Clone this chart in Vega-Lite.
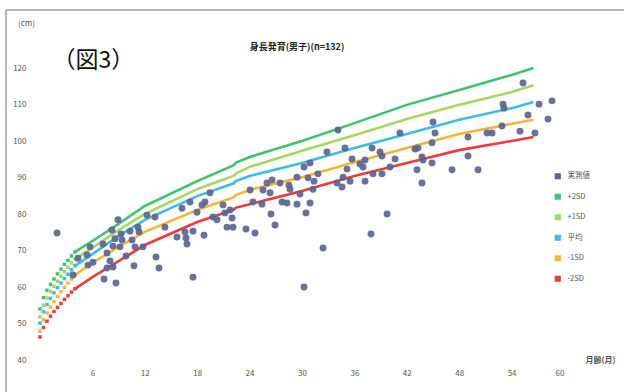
{
  "$schema": "https://vega.github.io/schema/vega-lite/v6.json",
  "autosize": "none",
  "width": 524,
  "height": 328.5,
  "padding": {"left": 40, "top": 31.5, "right": 60, "bottom": 32},
  "background": "white",
  "config": {"font": "Noto Sans CJK JP", "view": {"stroke": null}},
  "title": {"text": "身長発育(男子)(n=132)", "fontSize": 9, "fontWeight": "bold", "color": "#222", "frame": "group", "anchor": "middle", "offset": 0, "baseline": "middle", "dy": 47, "dx": -5},
  "datasets": {
    "one": [{}],
    "curves": [
      {"s":"+2SD","m":0,"v":54.0},{"s":"+2SD","m":0.4,"v":57.1},{"s":"+2SD","m":0.8,"v":59.1},{"s":"+2SD","m":1.2,"v":60.7},{"s":"+2SD","m":1.6,"v":62.2},{"s":"+2SD","m":2,"v":63.6},{"s":"+2SD","m":2.4,"v":64.9},{"s":"+2SD","m":2.8,"v":66.2},{"s":"+2SD","m":3.2,"v":67.3},{"s":"+2SD","m":3.6,"v":68.5},{"s":"+2SD","m":4,"v":69.6},{"s":"+2SD","m":6,"v":72.6},{"s":"+2SD","m":9,"v":77.3},{"s":"+2SD","m":12,"v":82.2},{"s":"+2SD","m":18,"v":89.0},{"s":"+2SD","m":22.2,"v":93.4},{"s":"+2SD","m":22.4,"v":94.0},{"s":"+2SD","m":24,"v":95.6},{"s":"+2SD","m":30,"v":100.0},{"s":"+2SD","m":36,"v":104.9},{"s":"+2SD","m":42,"v":109.9},{"s":"+2SD","m":48,"v":114.0},{"s":"+2SD","m":54,"v":118.1},{"s":"+2SD","m":56.5,"v":120.0},
      {"s":"+1SD","m":0,"v":51.8},{"s":"+1SD","m":0.4,"v":55.0},{"s":"+1SD","m":0.8,"v":57.0},{"s":"+1SD","m":1.2,"v":58.7},{"s":"+1SD","m":1.6,"v":60.2},{"s":"+1SD","m":2,"v":61.6},{"s":"+1SD","m":2.4,"v":62.9},{"s":"+1SD","m":2.8,"v":64.2},{"s":"+1SD","m":3.2,"v":65.4},{"s":"+1SD","m":3.6,"v":66.6},{"s":"+1SD","m":4,"v":67.7},{"s":"+1SD","m":6,"v":70.7},{"s":"+1SD","m":9,"v":75.6},{"s":"+1SD","m":12,"v":80.0},{"s":"+1SD","m":18,"v":86.8},{"s":"+1SD","m":22.2,"v":90.5},{"s":"+1SD","m":22.4,"v":91.1},{"s":"+1SD","m":24,"v":92.9},{"s":"+1SD","m":30,"v":97.3},{"s":"+1SD","m":36,"v":101.6},{"s":"+1SD","m":42,"v":106.0},{"s":"+1SD","m":48,"v":109.9},{"s":"+1SD","m":54,"v":113.4},{"s":"+1SD","m":56.5,"v":115.3},
      {"s":"平均","m":0,"v":50.1},{"s":"平均","m":0.4,"v":53.2},{"s":"平均","m":0.8,"v":55.2},{"s":"平均","m":1.2,"v":56.9},{"s":"平均","m":1.6,"v":58.4},{"s":"平均","m":2,"v":59.8},{"s":"平均","m":2.4,"v":61.1},{"s":"平均","m":2.8,"v":62.3},{"s":"平均","m":3.2,"v":63.5},{"s":"平均","m":3.6,"v":64.7},{"s":"平均","m":4,"v":65.8},{"s":"平均","m":6,"v":69.0},{"s":"平均","m":9,"v":74.0},{"s":"平均","m":12,"v":78.4},{"s":"平均","m":18,"v":84.9},{"s":"平均","m":22.2,"v":88.4},{"s":"平均","m":22.4,"v":89.0},{"s":"平均","m":24,"v":90.4},{"s":"平均","m":30,"v":94.0},{"s":"平均","m":36,"v":98.1},{"s":"平均","m":42,"v":101.9},{"s":"平均","m":48,"v":105.8},{"s":"平均","m":54,"v":109.0},{"s":"平均","m":56.5,"v":110.7},
      {"s":"-1SD","m":0,"v":47.9},{"s":"-1SD","m":0.4,"v":51.0},{"s":"-1SD","m":0.8,"v":52.9},{"s":"-1SD","m":1.2,"v":54.5},{"s":"-1SD","m":1.6,"v":56.0},{"s":"-1SD","m":2,"v":57.4},{"s":"-1SD","m":2.4,"v":58.7},{"s":"-1SD","m":2.8,"v":59.9},{"s":"-1SD","m":3.2,"v":61.1},{"s":"-1SD","m":3.6,"v":62.2},{"s":"-1SD","m":4,"v":63.3},{"s":"-1SD","m":6,"v":66.6},{"s":"-1SD","m":9,"v":71.0},{"s":"-1SD","m":12,"v":75.1},{"s":"-1SD","m":18,"v":81.1},{"s":"-1SD","m":22.2,"v":84.6},{"s":"-1SD","m":22.4,"v":85.2},{"s":"-1SD","m":24,"v":86.6},{"s":"-1SD","m":30,"v":90.1},{"s":"-1SD","m":36,"v":94.2},{"s":"-1SD","m":42,"v":98.1},{"s":"-1SD","m":48,"v":101.9},{"s":"-1SD","m":54,"v":104.7},{"s":"-1SD","m":56.5,"v":105.8},
      {"s":"-2SD","m":0,"v":46.3},{"s":"-2SD","m":0.4,"v":48.9},{"s":"-2SD","m":0.8,"v":50.6},{"s":"-2SD","m":1.2,"v":52.0},{"s":"-2SD","m":1.6,"v":53.3},{"s":"-2SD","m":2,"v":54.4},{"s":"-2SD","m":2.4,"v":55.5},{"s":"-2SD","m":2.8,"v":56.6},{"s":"-2SD","m":3.2,"v":57.6},{"s":"-2SD","m":3.6,"v":58.6},{"s":"-2SD","m":4,"v":59.5},{"s":"-2SD","m":6,"v":62.7},{"s":"-2SD","m":9,"v":67.1},{"s":"-2SD","m":12,"v":71.5},{"s":"-2SD","m":18,"v":77.8},{"s":"-2SD","m":22.2,"v":81.2},{"s":"-2SD","m":22.4,"v":81.7},{"s":"-2SD","m":24,"v":82.7},{"s":"-2SD","m":30,"v":86.3},{"s":"-2SD","m":36,"v":90.4},{"s":"-2SD","m":42,"v":94.0},{"s":"-2SD","m":48,"v":97.5},{"s":"-2SD","m":54,"v":100.0},{"s":"-2SD","m":56.5,"v":101.1}
    ],
    "pts": [
      {"m":1.95,"v":74.8},{"m":8.93,"v":78.4},{"m":12.25,"v":79.7},{"m":13.17,"v":79.2},{"m":8.24,"v":75.6},{"m":9.28,"v":74.5},{"m":10.31,"v":75.3},{"m":11.22,"v":76.4},{"m":11.34,"v":75.1},{"m":8.59,"v":73.2},
      {"m":9.39,"v":72.9},{"m":7.21,"v":71.8},{"m":8.36,"v":71.2},{"m":9.16,"v":71.0},{"m":10.54,"v":72.9},{"m":10.88,"v":71.0},{"m":11.79,"v":71.0},{"m":9.85,"v":68.5},{"m":5.73,"v":71.0},{"m":5.38,"v":68.8},
      {"m":4.35,"v":67.9},{"m":7.67,"v":69.3},{"m":6.07,"v":66.8},{"m":5.5,"v":66.0},{"m":8.02,"v":67.1},{"m":8.36,"v":65.5},{"m":7.67,"v":65.2},{"m":3.78,"v":63.3},{"m":7.33,"v":62.2},{"m":8.7,"v":61.1},
      {"m":10.76,"v":65.8},{"m":13.28,"v":68.2},{"m":13.63,"v":65.2},{"m":17.52,"v":62.7},{"m":14.31,"v":76.4},{"m":15.69,"v":73.7},{"m":16.6,"v":75.1},{"m":16.72,"v":73.4},{"m":16.83,"v":71.8},{"m":17.52,"v":75.3},
      {"m":18.78,"v":74.2},{"m":16.26,"v":81.6},{"m":17.18,"v":83.3},{"m":17.98,"v":80.5},{"m":18.55,"v":82.5},{"m":19.47,"v":85.8},{"m":18.89,"v":83.3},{"m":19.81,"v":79.2},{"m":20.27,"v":78.4},{"m":20.96,"v":82.5},
      {"m":21.18,"v":80.3},{"m":21.76,"v":81.1},{"m":21.41,"v":76.4},{"m":22.1,"v":76.4},{"m":21.99,"v":78.9},{"m":23.59,"v":75.9},{"m":24.62,"v":74.8},{"m":24.05,"v":86.6},{"m":25.42,"v":82.7},{"m":25.54,"v":86.6},
      {"m":26.34,"v":85.8},{"m":25.99,"v":88.5},{"m":26.57,"v":89.3},{"m":27.48,"v":88.5},{"m":27.71,"v":83.3},{"m":28.28,"v":83.0},{"m":26.45,"v":80.0},{"m":26.91,"v":77.0},{"m":24.39,"v":83.3},{"m":28.51,"v":87.9},
      {"m":55.31,"v":115.9},{"m":53.02,"v":110.1},{"m":53.13,"v":109.0},{"m":57.14,"v":110.1},{"m":58.63,"v":111.0},{"m":55.88,"v":107.1},{"m":58.17,"v":106.0},{"m":45.0,"v":105.2},{"m":34.12,"v":103.0},{"m":41.22,"v":102.2},
      {"m":45.23,"v":102.2},{"m":44.89,"v":99.5},{"m":49.01,"v":101.1},{"m":51.19,"v":102.2},{"m":51.76,"v":102.2},{"m":52.9,"v":104.1},{"m":54.96,"v":102.7},{"m":56.68,"v":102.2},{"m":32.86,"v":97.0},{"m":34.92,"v":98.1},
      {"m":38.02,"v":98.1},{"m":38.93,"v":97.0},{"m":39.16,"v":95.9},{"m":35.73,"v":95.1},{"m":37.22,"v":94.8},{"m":36.64,"v":93.7},{"m":36.99,"v":92.9},{"m":40.65,"v":95.1},{"m":42.94,"v":97.8},{"m":43.28,"v":98.1},
      {"m":43.74,"v":95.6},{"m":43.86,"v":94.8},{"m":44.89,"v":94.0},{"m":43.17,"v":92.1},{"m":43.74,"v":88.5},{"m":47.18,"v":92.1},{"m":49.01,"v":95.9},{"m":50.16,"v":92.1},{"m":30.23,"v":92.9},{"m":30.92,"v":94.0},
      {"m":29.43,"v":90.1},{"m":30.69,"v":89.9},{"m":31.38,"v":89.0},{"m":31.83,"v":91.0},{"m":35.16,"v":92.3},{"m":34.7,"v":90.1},{"m":35.5,"v":89.0},{"m":34.01,"v":88.5},{"m":34.58,"v":87.4},{"m":37.22,"v":89.0},
      {"m":38.13,"v":91.0},{"m":39.16,"v":91.0},{"m":40.08,"v":92.9},{"m":28.63,"v":86.8},{"m":29.77,"v":85.5},{"m":31.26,"v":86.8},{"m":29.43,"v":82.7},{"m":30.92,"v":83.0},{"m":30.46,"v":80.3},{"m":39.74,"v":80.0},
      {"m":37.9,"v":74.5},{"m":32.41,"v":70.7},{"m":30.23,"v":60.0}
    ]
  },
  "encoding": {
    "x": {"type": "quantitative", "scale": {"domain": [0, 60], "nice": false, "zero": false},
      "axis": {"values": [6,12,18,24,30,36,42,48,54,60], "grid": false, "domain": false, "ticks": false, "labelFontSize": 8, "labelColor": "#555", "labelPadding": 9,
        "title": "月齢(月)", "titleFontSize": 8, "titleFontWeight": "bold", "titleColor": "#555", "titleX": 560, "titleY": 0, "titleAlign": "center", "titleBaseline": "middle", "titleAnchor": null}},
    "y": {"type": "quantitative", "scale": {"domain": [40, 130], "nice": false, "zero": false},
      "axis": {"values": [40,50,60,70,80,90,100,110,120], "grid": false, "domain": false, "ticks": false, "labelFontSize": 8, "labelColor": "#555", "labelPadding": 14,
        "title": "(cm)", "titleAngle": 0, "titleFontSize": 8, "titleFontWeight": "normal", "titleColor": "#555", "titleX": -14, "titleY": -8, "titleAlign": "center", "titleBaseline": "middle"}}
  },
  "layer": [
    {
      "data": {"name": "one"},
      "mark": {"type": "rule", "color": "#b5b5b5", "strokeWidth": 2, "clip": false},
      "encoding": {"x": {"datum": -3.89, "type": "quantitative"}, "y": {"datum": 31.2, "type": "quantitative"}, "y2": {"datum": 135.9}}
    },
    {
      "data": {"name": "one"},
      "mark": {"type": "rule", "color": "#b5b5b5", "strokeWidth": 2, "clip": false},
      "encoding": {"y": {"datum": 135.9, "type": "quantitative"}, "x": {"datum": -3.89, "type": "quantitative"}, "x2": {"datum": 67}}
    },
    {
      "data": {"name": "one"},
      "mark": {"type": "text", "fontSize": 23, "font": "Noto Sans CJK JP", "color": "#111"},
      "encoding": {"x": {"datum": 6.1, "type": "quantitative"}, "y": {"datum": 121.9, "type": "quantitative"}, "text": {"value": "（図3）"}}
    },
    {
      "data": {"name": "curves"},
      "transform": [{"filter": "datum.m >= 4"}],
      "mark": {"type": "line", "strokeWidth": 2.6},
      "encoding": {
        "x": {"field": "m", "type": "quantitative"},
        "y": {"field": "v", "type": "quantitative"},
        "color": {"field": "s", "type": "nominal",
          "scale": {"domain": ["実測値", "+2SD", "+1SD", "平均", "-1SD", "-2SD"], "range": ["#5b6592", "#3fc46e", "#a6d75e", "#3bbde6", "#f6b535", "#ec3a3d"]},
          "legend": {"title": null, "orient": "none", "legendX": 514, "legendY": 141, "symbolType": "square", "symbolSize": 22, "labelFontSize": 7.5, "labelColor": "#555", "rowPadding": 8.5, "padding": 0, "labelOffset": 6}},
        "detail": {"field": "s"}
      }
    },
    {
      "data": {"name": "curves"},
      "transform": [{"filter": "datum.m <= 4"}],
      "mark": {"type": "square", "size": 12, "opacity": 1},
      "encoding": {
        "x": {"field": "m", "type": "quantitative"},
        "y": {"field": "v", "type": "quantitative"},
        "color": {"field": "s", "type": "nominal"}
      }
    },
    {
      "data": {"name": "pts"},
      "mark": {"type": "circle", "size": 48, "opacity": 0.92},
      "encoding": {
        "x": {"field": "m", "type": "quantitative"},
        "y": {"field": "v", "type": "quantitative"},
        "color": {"datum": "実測値", "type": "nominal"}
      }
    }
  ],
  "resolve": {"scale": {"color": "shared"}}
}
